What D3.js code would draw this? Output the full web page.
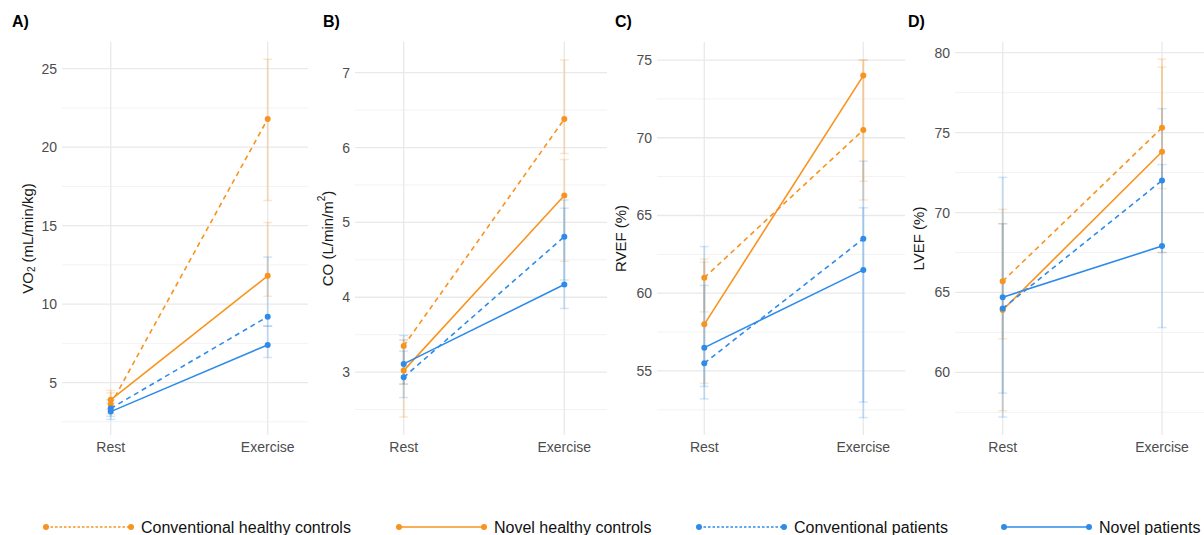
<!DOCTYPE html>
<html><head><meta charset="utf-8">
<script src="https://cdn.jsdelivr.net/npm/d3@7"></script>
<style>
body{margin:0;background:#fff;}
svg{display:block;font-family:"Liberation Sans",Arial,sans-serif;}
</style></head>
<body><svg id="chart" width="1204" height="535"></svg>
<script>
// ---------- data ----------
const groups = ["Conventional healthy controls","Novel healthy controls","Conventional patients","Novel patients"];
const timepoints = ["Rest","Exercise"];
const panelLabels = ["A)","B)","C)","D)"];
// values per group: [Rest, Exercise]
const vo2Mean = [[3.6,21.8],[3.9,11.8],[3.35,9.2],[3.15,7.4]];
const vo2Low  = [[3.0,16.6],[3.3,10.5],[2.85,8.6],[2.65,6.6]];
const vo2High = [[4.5,25.6],[4.35,15.2],[3.9,13.0],[3.7,8.6]];
const coMean = [[3.35,6.38],[3.02,5.36],[2.93,4.81],[3.11,4.17]];
const coLow  = [[2.84,5.92],[2.40,4.48],[2.66,4.23],[2.84,3.85]];
const coHigh = [[3.43,7.17],[3.43,5.84],[3.28,5.30],[3.49,5.19]];
const rvefMean = [[61.0,70.5],[58.0,74.0],[55.5,63.5],[56.5,61.5]];
const rvefLow  = [[58.8,66.0],[54.2,67.2],[53.2,53.0],[54.0,52.0]];
const rvefHigh = [[62.2,75.0],[62.0,75.0],[60.5,68.5],[63.0,65.5]];
const lvefMean = [[65.7,75.3],[63.9,73.8],[64.0,72.0],[64.7,67.9]];
const lvefLow  = [[62.1,71.5],[57.6,67.5],[57.2,62.8],[58.7,67.5]];
const lvefHigh = [[70.2,79.6],[69.3,79.1],[72.2,76.5],[69.3,73.0]];
const vo2Ticks = [5,10,15,20,25];
const coTicks = [3,4,5,6,7];
const rvefTicks = [55,60,65,70,75];
const lvefTicks = [60,65,70,75,80];

// ---------- styles / layout ----------
const orange = "#F7931E", blue = "#2E8BEA";
const groupColor = [orange, orange, blue, blue];
const groupDash = ["5,4", null, "5,4", null];
const legendDash = ["2.5,2", null, "2.5,2", null];
const plotTop = 42, plotBottom = 435;
const panels = [
  {label:panelLabels[0], mean:vo2Mean, low:vo2Low, high:vo2High, ticks:vo2Ticks, domain:[1.66,26.7], left:62, right:308, restX:110.7, exX:267.7, titleX:27, labX:12, title:"vo2"},
  {label:panelLabels[1], mean:coMean, low:coLow, high:coHigh, ticks:coTicks, domain:[2.16,7.41], left:355, right:607, restX:403.7, exX:564.3, titleX:327, labX:323, title:"co"},
  {label:panelLabels[2], mean:rvefMean, low:rvefLow, high:rvefHigh, ticks:rvefTicks, domain:[50.88,76.16], left:657, right:905, restX:704.3, exX:863.3, titleX:620, labX:615, title:"RVEF (%)"},
  {label:panelLabels[3], mean:lvefMean, low:lvefLow, high:lvefHigh, ticks:lvefTicks, domain:[56.08,80.67], left:955, right:1204, restX:1002.7, exX:1162, titleX:918, labX:908, title:"LVEF (%)"}
];

const svg = d3.select("#chart");

panels.forEach(p => {
  const g = svg.append("g");
  const x = d3.scalePoint().domain(timepoints).range([p.restX, p.exX]);
  const y = d3.scaleLinear().domain(p.domain).range([plotBottom, plotTop]);
  const step = p.ticks[1]-p.ticks[0];
  const minor = d3.range(p.ticks[0]-step/2, p.domain[1], step).filter(v => v > p.domain[0] && v < p.domain[1]);

  g.selectAll(".minor").data(minor).join("line")
    .attr("x1", p.left).attr("x2", p.right)
    .attr("y1", d => y(d)).attr("y2", d => y(d))
    .attr("stroke", "#f2f2f2").attr("stroke-width", 1);
  g.selectAll(".major").data(p.ticks).join("line")
    .attr("x1", p.left).attr("x2", p.right)
    .attr("y1", d => y(d)).attr("y2", d => y(d))
    .attr("stroke", "#e9e9e9").attr("stroke-width", 1.3);
  g.selectAll(".vgrid").data(timepoints).join("line")
    .attr("x1", d => x(d)).attr("x2", d => x(d))
    .attr("y1", plotTop).attr("y2", plotBottom)
    .attr("stroke", "#e9e9e9").attr("stroke-width", 1.3);

  g.selectAll(".ytick").data(p.ticks).join("text")
    .attr("x", p.left - 5).attr("y", d => y(d))
    .attr("text-anchor", "end").attr("dominant-baseline", "central")
    .attr("fill", "#4d4d4d").attr("font-size", 14)
    .text(d => d);
  g.selectAll(".xtick").data(timepoints).join("text")
    .attr("x", d => x(d)).attr("y", 452)
    .attr("text-anchor", "middle")
    .attr("fill", "#4d4d4d").attr("font-size", 14)
    .text(d => d);

  const t = g.append("text")
    .attr("transform", `translate(${p.titleX},${(plotTop+plotBottom)/2}) rotate(-90)`)
    .attr("text-anchor", "middle").attr("dominant-baseline", "central")
    .attr("fill", "#1a1a1a").attr("font-size", 15);
  if (p.title === "vo2") {
    t.append("tspan").text("VO");
    t.append("tspan").attr("font-size", 10).attr("dy", 4).text("2");
    t.append("tspan").attr("dy", -4).text(" (mL/min/kg)");
  } else if (p.title === "co") {
    t.append("tspan").text("CO (L/min/m");
    t.append("tspan").attr("font-size", 10).attr("dy", -6).text("2");
    t.append("tspan").attr("dy", 6).text(")");
  } else {
    t.text(p.title);
  }

  g.append("text").attr("x", p.labX).attr("y", 27)
    .attr("font-weight", "bold").attr("font-size", 16).attr("fill", "#000")
    .text(p.label);

  const bars = [];
  groups.forEach((gr, gi) => timepoints.forEach((tp, ti) => {
    bars.push({gi, tp, lo: p.low[gi][ti], hi: p.high[gi][ti]});
  }));
  const eb = g.selectAll(".eb").data(bars).join("g")
    .attr("stroke", d => groupColor[d.gi]).attr("stroke-opacity", 0.22).attr("stroke-width", 2).attr("fill", "none");
  eb.append("line").attr("x1", d => x(d.tp)).attr("x2", d => x(d.tp))
    .attr("y1", d => y(d.lo)).attr("y2", d => y(d.hi));
  eb.append("line").attr("x1", d => x(d.tp)-4.5).attr("x2", d => x(d.tp)+4.5)
    .attr("y1", d => y(d.lo)).attr("y2", d => y(d.lo)).attr("stroke-width", 1.5);
  eb.append("line").attr("x1", d => x(d.tp)-4.5).attr("x2", d => x(d.tp)+4.5)
    .attr("y1", d => y(d.hi)).attr("y2", d => y(d.hi)).attr("stroke-width", 1.5);

  const line = d3.line().x((d, i) => x(timepoints[i])).y(d => y(d));
  g.selectAll(".ln").data(p.mean).join("path")
    .attr("d", d => line(d)).attr("fill", "none")
    .attr("stroke", (d, i) => groupColor[i]).attr("stroke-width", 1.6)
    .attr("stroke-dasharray", (d, i) => groupDash[i]);

  const pts = [];
  p.mean.forEach((vals, gi) => vals.forEach((v, ti) => pts.push({gi, tp: timepoints[ti], v})));
  g.selectAll(".pt").data(pts).join("circle")
    .attr("cx", d => x(d.tp)).attr("cy", d => y(d.v)).attr("r", 3)
    .attr("fill", d => groupColor[d.gi]);
});

const legendX = [46, 399, 699, 1004];
const legY = 527;
const lg = svg.append("g").selectAll("g").data(groups).join("g")
  .attr("transform", (d, i) => `translate(${legendX[i]},${legY})`);
lg.append("line").attr("x1", 0).attr("x2", 85).attr("y1", 0).attr("y2", 0)
  .attr("stroke", (d, i) => groupColor[i]).attr("stroke-width", 1.3)
  .attr("stroke-dasharray", (d, i) => legendDash[i]);
lg.append("circle").attr("cx", 0).attr("cy", 0).attr("r", 3).attr("fill", (d, i) => groupColor[i]);
lg.append("circle").attr("cx", 85).attr("cy", 0).attr("r", 3).attr("fill", (d, i) => groupColor[i]);
lg.append("text").attr("x", 95).attr("y", 0).attr("dominant-baseline", "central")
  .attr("font-size", 16).attr("fill", "#111").text(d => d);
</script></body></html>
